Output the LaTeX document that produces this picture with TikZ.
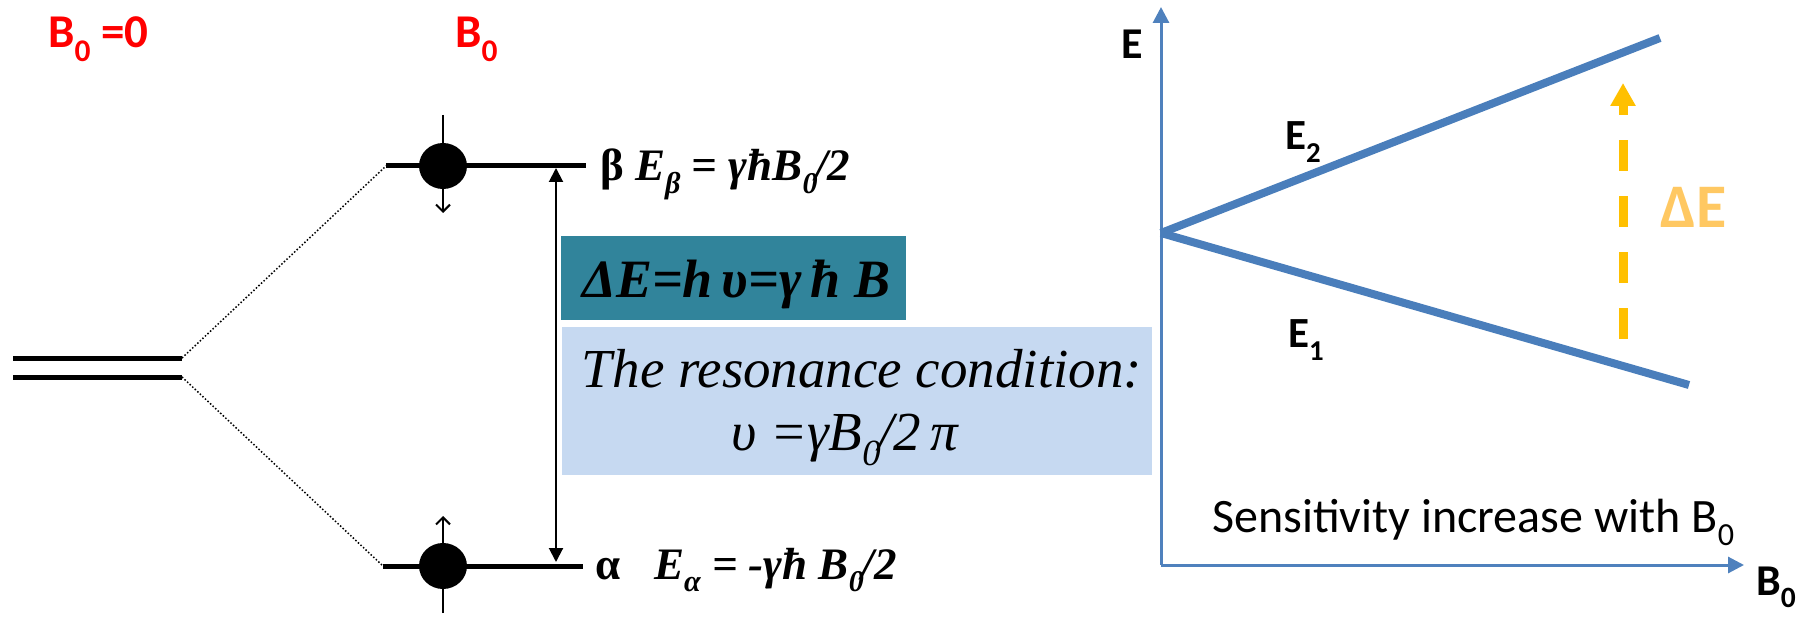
\documentclass[tikz,border=0pt]{standalone}
\usepackage{fontspec}
\usepackage{graphicx}
\setmainfont{Liberation Serif}
\newfontfamily\calfont{Carlito}
\usetikzlibrary{arrows.meta,shapes.geometric}
\definecolor{tealbox}{HTML}{31849B}
\definecolor{lightbox}{HTML}{C6D9F1}
\definecolor{graphblue}{HTML}{4A7EBB}
\definecolor{axisblue}{HTML}{4F81BD}
\definecolor{yelarrow}{HTML}{FFC000}
\definecolor{yeltext}{HTML}{FFC862}
\newcommand\lsub[1]{\raisebox{-0.28em}{\scalebox{0.67}{#1}}}
\begin{document}
\begin{tikzpicture}[x=1pt,y=-1pt,
  level/.style={line width=5pt},
  dotline/.style={line width=1.5pt, dotted},
  spin/.style={ellipse, fill=black, minimum width=48pt, minimum height=46pt, inner sep=0pt},
  spinarrow/.style={line width=2pt, -{Straight Barb[length=7pt,width=14pt,line width=2pt]}},
  gaparrow/.style={line width=2pt, {Triangle[length=14pt,width=14pt]}-{Triangle[length=14pt,width=14pt]}},
  axis/.style={axisblue, line width=3pt, -{Triangle[length=16pt,width=16pt]}},
  eline/.style={graphblue, line width=8pt},
  redlab/.style={anchor=base west, inner sep=0pt, text=red, font=\calfont\bfseries\fontsize{47}{56}\selectfont},
  eqtext/.style={anchor=base west, inner sep=0pt, font=\fontsize{45}{54}\selectfont},
  blklab/.style={anchor=base west, inner sep=0pt, font=\calfont\bfseries\fontsize{44}{52}\selectfont},
]
\useasboundingbox (0,0) rectangle (1806,617);

% red labels
\node[redlab] (bzero) at (48,48) {B\lsub{0} =0};
\node[redlab] (bfield) at (455,48) {B\lsub{0}};

% degenerate level (double line)
\coordinate (d1a) at (13,358);
\coordinate (d1b) at (182,358);
\coordinate (d2a) at (13,377);
\coordinate (d2b) at (182,377);
\draw[level] (d1a) -- (d1b);
\draw[level] (d2a) -- (d2b);

% split levels
\coordinate (u1) at (386,166);
\coordinate (u2) at (586,166);
\coordinate (l1) at (383,566);
\coordinate (l2) at (583,566);
\draw[level] (u1) -- (u2);
\draw[level] (l1) -- (l2);
\draw[dotline] (d1b) -- (u1);
\draw[dotline] (d2b) -- (l1);

% spins
\coordinate (sut) at (443,115);
\coordinate (sub) at (443,213);
\coordinate (slb) at (443,613);
\coordinate (slt) at (443,516);
\draw[spinarrow] (sut) -- (sub);
\draw[spinarrow] (slb) -- (slt);
\node[spin] (spinup) at (443,166) {};
\node[spin] (spinlo) at (443,566) {};

% gap arrow
\coordinate (ga1) at (556,168);
\coordinate (ga2) at (556,562);
\draw[gaparrow] (ga1) -- (ga2);

% level equations
\node[eqtext] (eqbeta) at (600,181) {\textbf{β} \textbf{\textit{E\lsub{β} = γħB\lsub{0}\kern-0.05em/2}}};
\node[eqtext] (eqalpha) at (595,579) {\textbf{α}\hspace{0.75em}\textbf{\textit{E\lsub{α} = -γħ B\lsub{0}\kern-0.05em/2}}};

% boxes
\node[fill=tealbox, anchor=north west, minimum width=345pt, minimum height=84pt, inner sep=0pt] (teal) at (561,236) {};
\node[anchor=base west, inner sep=0pt, font=\fontsize{54}{64}\selectfont] (deltaeq) at (582,298) {\textbf{\textit{ΔE=h\,υ=γ\,ħ B}}};
\node[fill=lightbox, anchor=north west, minimum width=590pt, minimum height=148pt, inner sep=0pt] (lblue) at (562,327) {};
\node[anchor=base, inner sep=0pt, font=\fontsize{55}{66}\selectfont] (rescond) at (862,387) {\textit{The resonance condition:}};
\node[anchor=base, inner sep=0pt, font=\fontsize{55}{66}\selectfont] (resform) at (845,450) {\textit{υ =γB\lsub{0}\kern-0.05em/2\,π}};

% graph
\coordinate (orig) at (1161,565);
\coordinate (ytop) at (1161,7);
\coordinate (xend) at (1744,565);
\draw[axis] (orig) -- (ytop);
\draw[axis] (orig) -- (xend);
\coordinate (fork) at (1161,233);
\coordinate (e2end) at (1660,38);
\coordinate (e1end) at (1689,385);
\draw[eline] (fork) -- (e2end);
\draw[eline] (fork) -- (e1end);

\node[blklab] (elab) at (1121,59) {E};
\node[blklab, font=\calfont\bfseries\fontsize{43}{52}\selectfont] (e2lab) at (1285,150) {E\lsub{2}};
\node[blklab, font=\calfont\bfseries\fontsize{43}{52}\selectfont] (e1lab) at (1288,348) {E\lsub{1}};
\node[blklab] (blab) at (1756,595) {B\lsub{0}};

% delta E arrow
\coordinate (ya) at (1623,339);
\coordinate (yb) at (1623,83);
\draw[yelarrow, line width=9pt, dash pattern=on 31pt off 25pt, -{Triangle[length=23pt,width=24pt]}] (ya) -- (yb);
\node[anchor=base west, inner sep=0pt, text=yeltext, font=\calfont\bfseries\fontsize{62}{72}\selectfont] (delab) at (1660,228) {ΔE};

\node[anchor=base west, inner sep=0pt, font=\calfont\fontsize{48}{58}\selectfont] (sens) at (1212,532) {Sensitivity increase with B\lsub{0}};
\end{tikzpicture}
\end{document}
